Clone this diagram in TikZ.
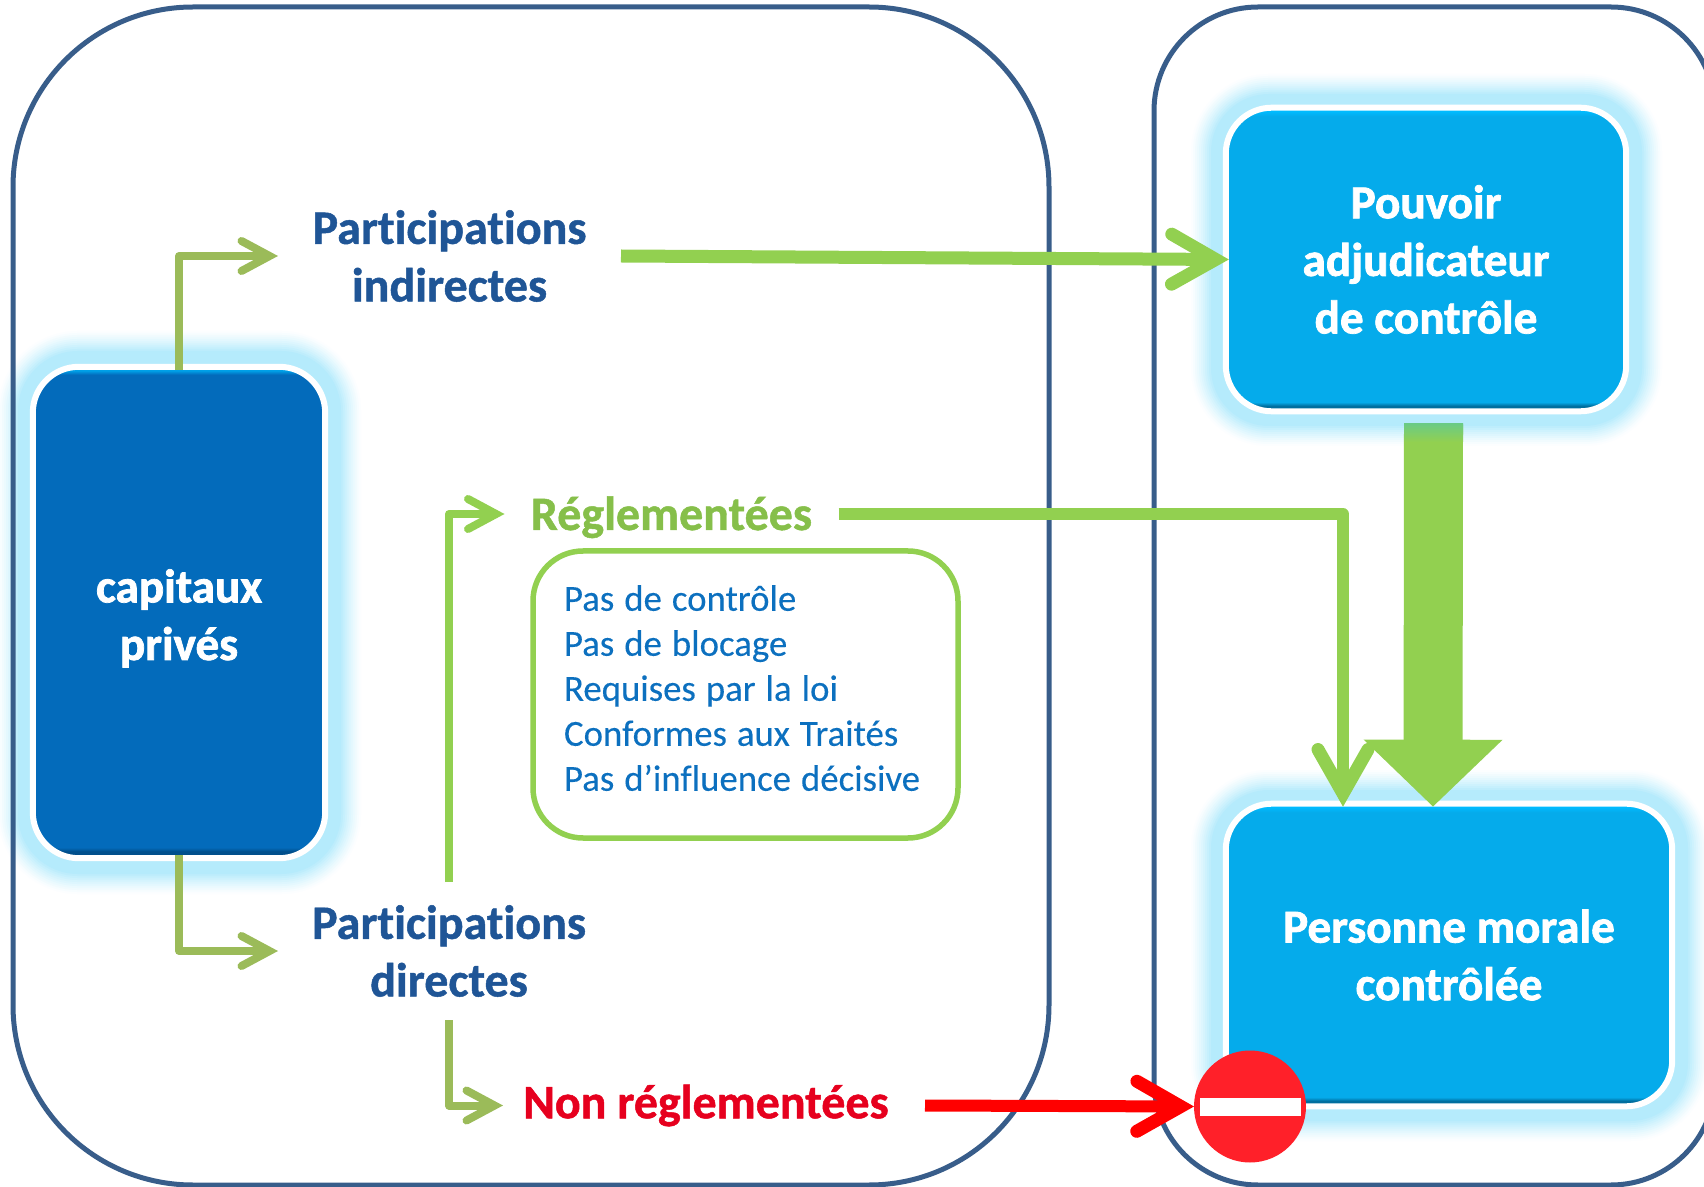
\documentclass[tikz,border=0pt]{standalone}
\usepackage{fontspec}
\setmainfont{Carlito}[Ligatures=NoCommon,BoldFeatures={FakeBold=1.0}]
\newfontfamily\heavyfont{Carlito}[Ligatures=NoCommon,BoldFeatures={FakeBold=1.6}]
\newfontfamily\listfont{Carlito}[Ligatures=NoCommon,FakeBold=0.2]
\usetikzlibrary{arrows.meta,calc}
\definecolor{framec}{HTML}{385D8A}
\definecolor{glowc}{HTML}{B5EBFC}
\definecolor{green1}{HTML}{92D050}
\definecolor{green2}{HTML}{9BBB59}
\definecolor{navy}{HTML}{1F5596}
\definecolor{listc}{HTML}{0C70BF}
\definecolor{redc}{HTML}{E6001E}
\definecolor{stopc}{HTML}{FF2029}
\definecolor{darkb}{HTML}{036BBB}
\definecolor{darkbtop}{HTML}{00A0E8}
\definecolor{darkbbot}{HTML}{004F8C}
\definecolor{lightb}{HTML}{05ABEB}
\definecolor{lightbtop}{HTML}{00BBFF}
\definecolor{lightbbot}{HTML}{006F9F}
\pgfdeclareverticalshading{shadedark}{100bp}{color(0bp)=(darkbbot); color(25.7bp)=(darkbbot); color(26.1bp)=(darkb); color(74.2bp)=(darkb); color(74.6bp)=(darkbtop); color(100bp)=(darkbtop)}
\pgfdeclareverticalshading{shadelight}{100bp}{color(0bp)=(lightbbot); color(25.9bp)=(lightbbot); color(26.5bp)=(lightb); color(73.6bp)=(lightb); color(74.4bp)=(lightbtop); color(100bp)=(lightbtop)}
\newcommand{\glowbox}[5]{%
  \foreach \i in {0,...,15}{%
    \pgfmathsetmacro\dd{32-2*\i}
    \pgfmathsetmacro\mm{min(100,100*(\i/11)^1.3)}
    \pgfmathsetmacro\rr{(#5+\dd)/2}
    \fill[glowc!\mm!white,rounded corners=\rr pt] ({#1-\dd},{#2-\dd}) rectangle ({#3+\dd},{#4+\dd});
  }}
\tikzset{
  frame/.style={draw=framec,line width=2.5pt},
  boxnode/.style={draw=white,line width=3pt,outer sep=-1.5pt,rounded corners=23pt,
     text=white,font=\heavyfont\bfseries\fontsize{23.6}{28.8}\selectfont,align=center},
  darkbox/.style={boxnode,shading=shadedark},
  lightbox/.style={boxnode,shading=shadelight},
  textlabel/.style={inner sep=0pt,outer sep=0pt,align=center,font=\bfseries\fontsize{24}{28.8}\selectfont},
  barbthin/.style={line width=4pt,line join=round,-{Straight Barb[length=14pt,width=15pt,line width=4pt,line cap=round,line join=miter]}},
  barbthick/.style={line width=6pt,line join=round,-{Straight Barb[length=22pt,width=25pt,line width=6.5pt,line cap=round,line join=miter]}},
}
\begin{document}
\begin{tikzpicture}[x=0.5pt,y=-0.5pt]
\useasboundingbox (0,0) rectangle (1704,1187);
% glows
\glowbox{28}{361}{331}{864}{50}
\glowbox{1221}{104}{1632}{416}{48}
\glowbox{1221}{800}{1678}{1111}{48}
% frames
\draw[frame,rounded corners=90pt] (13,7) rectangle (1049,1185);
\draw[frame,rounded corners=52pt] (1154,7) rectangle (1715,1185);
% boxes
\node[darkbox,minimum width=146.2pt,minimum height=245.7pt,text height=50pt,text depth=2.5pt] (cap) at (179,612.5) {capitaux\\privés};
\node[lightbox,minimum width=200.2pt,minimum height=151.8pt] (pa) at (1426,259.5) {Pouvoir\\adjudicateur\\de contrôle};
\node[lightbox,minimum width=223.2pt,minimum height=151.3pt] (pm) at (1449,955) {Personne morale\\contrôlée};
% labels
\node[textlabel,text=navy,minimum width=171.5pt,minimum height=69pt] (pi) at (449.5,256) {Participations\\indirectes};
\node[textlabel,text=navy,minimum width=171pt,minimum height=69pt] (pd) at (449,951) {Participations\\directes};
\node[textlabel,text=green1!92!black,minimum width=167pt,minimum height=24pt,text height=20pt,text depth=4pt] (rg) at (671.5,514) {Réglementées};
\node[textlabel,text=redc,minimum width=203pt,minimum height=24pt] (nr) at (706,1105.5) {Non réglementées};
% list box
\node[draw=green1,line width=2.75pt,rounded corners=25pt,fill=white,outer sep=0pt,
      minimum width=212.5pt,minimum height=143.5pt,inner xsep=15.5pt,inner ysep=0pt,
      text width=181.5pt,align=left,text=listc,font=\listfont\fontsize{18.4}{22.5}\selectfont] (lst) at (745.5,694.5)
  {\setlength{\spaceskip}{5pt}Pas de contrôle\\Pas de blocage\\Requises par la loi\\Conformes aux Traités\\Pas d’influence décisive\\[-16pt]\mbox{}};
% stop sign
\node[circle,fill=stopc,minimum size=56pt,inner sep=0pt,outer sep=0pt] (stop) at (1250,1106.5) {};
\node[rectangle,fill=white,minimum width=50.5pt,minimum height=9pt,inner sep=0pt] (bar) at (stop.center) {};
% connectors
\draw[barbthin,green2] (cap.north) |- (pi.west);
\draw[barbthin,green2] (cap.south) |- (pd.west);
\draw[barbthin,green1] (pd.north) |- (rg.west);
\draw[barbthin,green2] (pd.south) |- (nr.west);
\draw[barbthick,green1,line width=6.5pt] (pi.east) -- (pa.west);
\draw[barbthick,green1] (rg.east) -| ($(pm.north)+(-106,0)$);
\draw[barbthick,red] ($(nr.east)+(16,0)$) -- (stop.west);
\draw[green1,line width=29.5pt,-{Triangle[length=33.5pt,width=67.5pt]}] ($(pa.south)+(7.5,16)$) -- ($(pm.north)+(-16,0)$);
\shade[top color=green1!70!cyan!80!gray,bottom color=green1] (1404,424) rectangle (1463,442);
\end{tikzpicture}
\end{document}
